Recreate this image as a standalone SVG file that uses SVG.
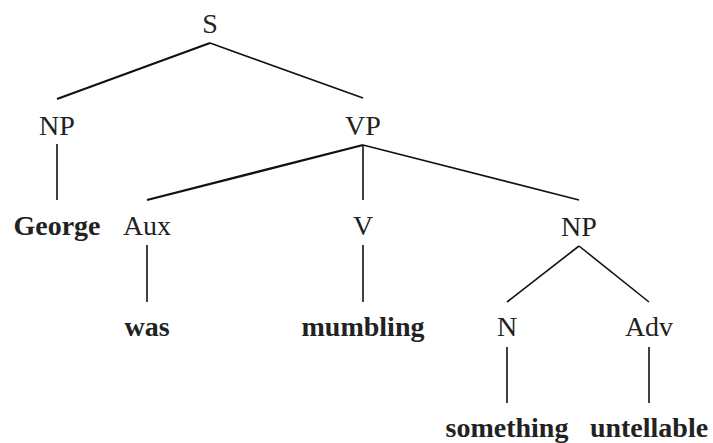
<svg xmlns="http://www.w3.org/2000/svg" width="713" height="443" viewBox="0 0 713 443">
<style>
text{font-size:28px;text-anchor:middle;fill:#222}
.w{font-weight:bold}
line{stroke:#111;stroke-width:1.6}
.t{stroke-width:2.2}
</style>
<rect width="713" height="443" fill="#fff"/>
<g id="connectors">
<line class="t" x1="210" y1="43" x2="57" y2="99"/>
<line x1="210" y1="43" x2="363" y2="98"/>
<line x1="57" y1="144" x2="57" y2="200"/>
<line class="t" x1="363" y1="145" x2="147" y2="200"/>
<line x1="363" y1="145" x2="363" y2="200"/>
<line x1="363" y1="145" x2="579" y2="200"/>
<line x1="147" y1="245" x2="147" y2="302"/>
<line x1="363" y1="245" x2="363" y2="302"/>
<line x1="579" y1="246" x2="507" y2="302"/>
<line x1="579" y1="246" x2="649" y2="302"/>
<line x1="507" y1="347" x2="507" y2="403"/>
<line x1="649" y1="347" x2="649" y2="403"/>
</g>
<g font-family="Liberation Serif, DejaVu Serif, serif">
<g id="S"><text x="210" y="33">S</text></g>
<g id="NP1"><text x="57" y="135">NP</text></g>
<g id="VP"><text x="363" y="135">VP</text></g>
<g id="George"><text class="w" x="57" y="235">George</text></g>
<g id="Aux"><text x="147" y="235">Aux</text></g>
<g id="V"><text x="363" y="235">V</text></g>
<g id="NP2"><text x="579" y="236">NP</text></g>
<g id="was"><text class="w" x="147" y="336">was</text></g>
<g id="mumbling"><text class="w" x="363" y="336">mumbling</text></g>
<g id="N"><text x="507" y="336">N</text></g>
<g id="Adv"><text x="649" y="336">Adv</text></g>
<g id="something"><text class="w" x="507" y="437">something</text></g>
<g id="untellable"><text class="w" x="649" y="437">untellable</text></g>
</g>
</svg>
